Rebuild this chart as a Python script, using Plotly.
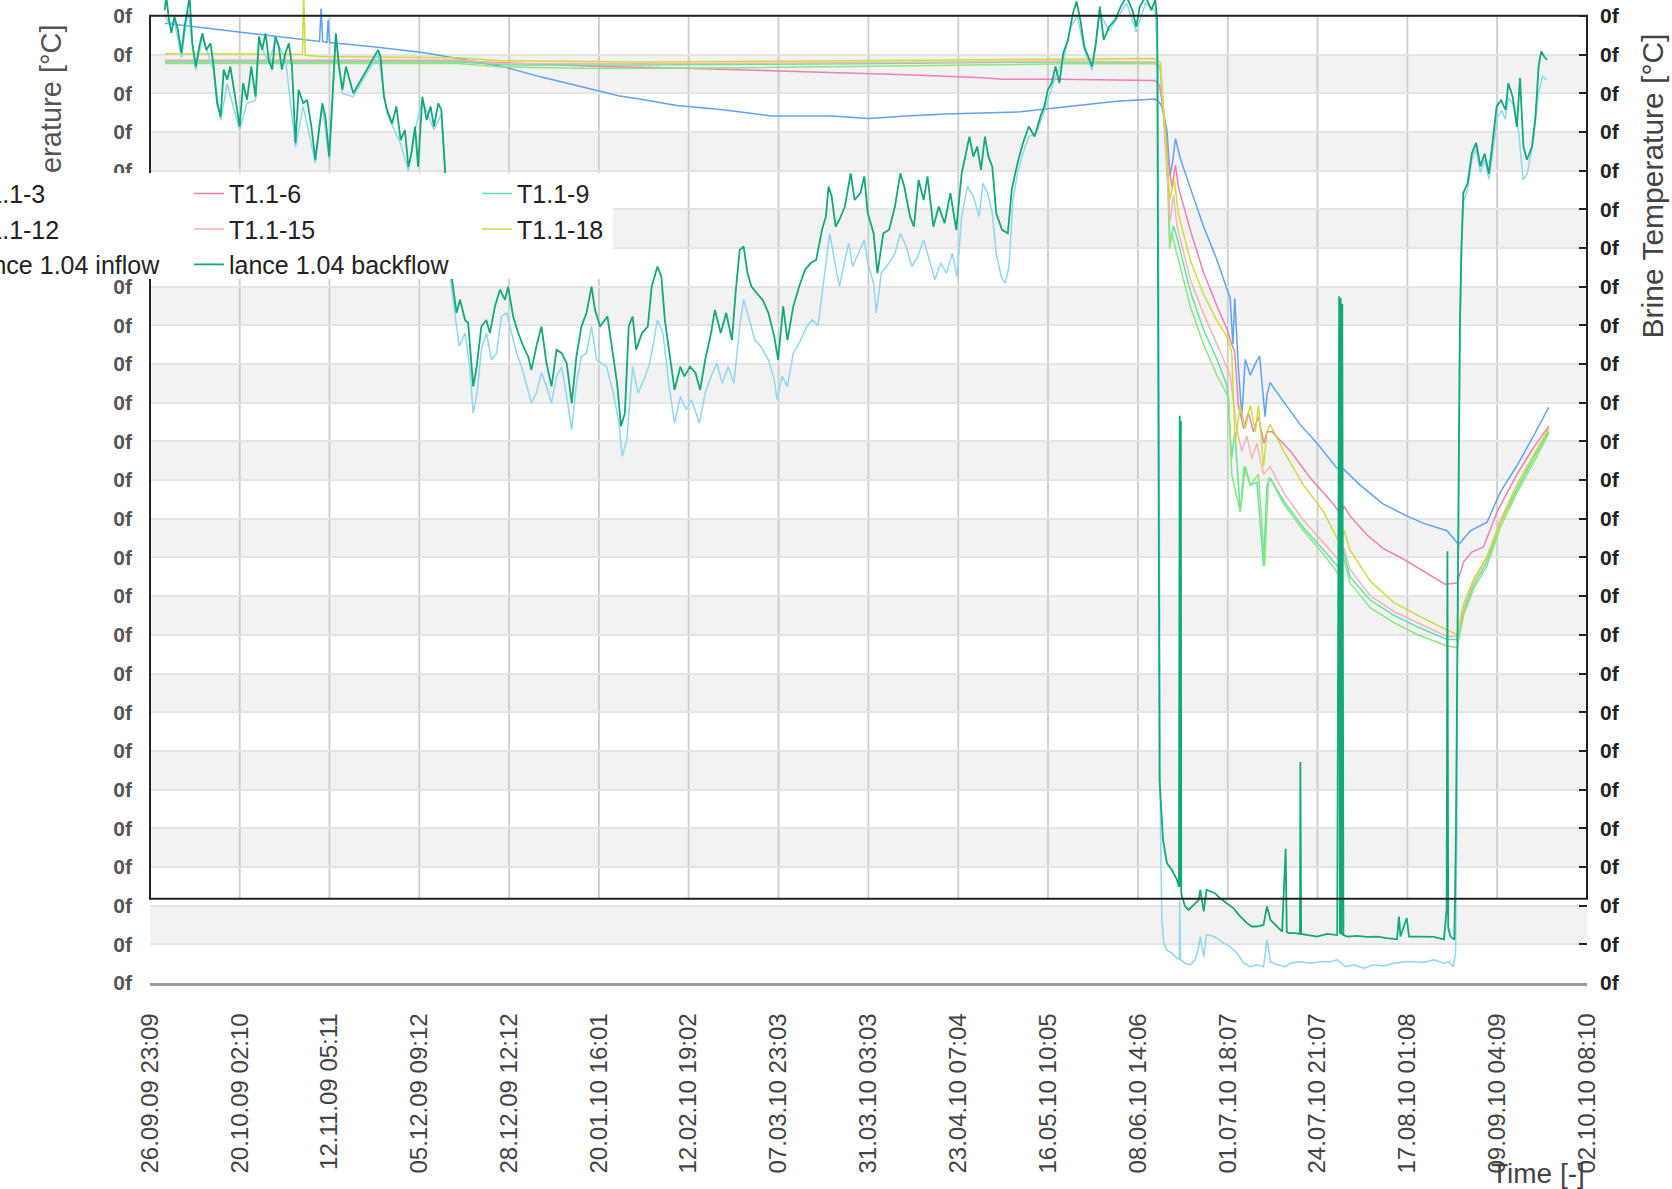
import pandas as pd
import plotly.graph_objects as go

# ---------------- data ----------------
T_START = "2009-09-26 23:09"
T_END = "2010-10-02 08:10"

x_tick_labels = ["26.09.09 23:09", "20.10.09 02:10", "12.11.09 05:11", "05.12.09 09:12",
                 "28.12.09 12:12", "20.01.10 16:01", "12.02.10 19:02", "07.03.10 23:03",
                 "31.03.10 03:03", "23.04.10 07:04", "16.05.10 10:05", "08.06.10 14:06",
                 "01.07.10 18:07", "24.07.10 21:07", "17.08.10 01:08", "09.09.10 04:09",
                 "02.10.10 08:10"]
y_tick_values = list(range(0, 26))
y_tick_labels = ["0f"] * 26

# (days since start, temperature)
T1_1_3 = [(3.85, 24.81), (16.2, 24.67), (30.0, 24.50), (42.6, 24.37), (43.7, 24.34), (44.1, 25.19),
          (44.5, 24.34), (45.6, 24.31), (45.9, 24.89), (46.3, 24.31), (57.5, 24.20), (71.2, 24.04),
          (79.5, 23.90), (90.5, 23.70), (100.4, 23.43), (109.7, 23.21), (121.0, 22.93), (126.2, 22.85),
          (135.8, 22.68), (147.7, 22.57), (160.3, 22.41), (175.7, 22.41), (185.3, 22.35), (195.0, 22.41),
          (204.9, 22.46), (224.4, 22.52), (239.2, 22.68), (249.1, 22.79), (259.0, 22.85), (260.1, 22.77),
          (260.8, 22.66), (262.1, 22.05), (262.9, 20.87), (263.6, 21.25), (264.3, 21.83), (265.5, 21.33),
          (268.1, 20.56), (271.5, 19.57), (275.0, 18.69), (277.6, 17.89), (278.4, 17.70), (279.1, 16.51),
          (279.6, 17.70), (280.5, 15.93), (281.4, 14.64), (282.3, 16.12), (283.6, 15.71), (284.9, 16.01),
          (286.0, 16.21), (286.6, 15.52), (287.4, 14.64), (287.9, 15.21), (288.7, 15.52), (292.2, 15.02),
          (296.4, 14.44), (300.8, 13.95), (305.9, 13.31), (307.6, 13.29), (308.5, 13.20), (311.9, 12.87),
          (317.9, 12.38), (324.0, 12.07), (328.3, 11.88), (334.3, 11.69), (337.3, 11.33), (340.3, 11.69),
          (344.6, 11.91), (348.0, 12.68), (352.3, 13.37), (356.6, 14.14), (360.5, 14.88)]

T1_1_6 = [(3.85, 23.84), (43.7, 23.84), (79.5, 23.84), (90.5, 23.79), (116.0, 23.69), (135.7, 23.65),
          (160.3, 23.58), (175.2, 23.54), (195.0, 23.48), (214.6, 23.40), (219.7, 23.36), (234.3, 23.36),
          (259.0, 23.33), (260.2, 23.21), (261.6, 22.24), (262.5, 21.25), (263.4, 20.56), (264.3, 21.14),
          (265.1, 20.56), (268.1, 19.47), (271.5, 18.38), (275.0, 17.50), (277.6, 16.90), (278.8, 16.51),
          (279.6, 16.32), (280.5, 14.94), (281.9, 14.33), (283.1, 14.75), (284.4, 14.25), (285.7, 14.64),
          (287.1, 13.95), (287.9, 14.25), (289.2, 14.25), (293.9, 13.75), (299.0, 13.06), (305.0, 12.38),
          (306.8, 12.13), (307.8, 12.32), (309.3, 12.07), (313.7, 11.58), (317.9, 11.23), (322.3, 11.00),
          (326.6, 10.75), (330.9, 10.50), (333.8, 10.31), (336.9, 10.34), (338.6, 10.89), (340.7, 11.14),
          (343.7, 11.27), (347.2, 12.18), (352.3, 13.15), (356.6, 13.84), (360.5, 14.39)]

T1_1_9 = [(3.85, 23.81), (79.5, 23.81), (93.2, 23.73), (126.2, 23.73), (181.2, 23.76), (236.2, 23.81),
          (259.0, 23.80), (260.4, 23.70), (261.6, 21.83), (262.5, 20.37), (262.9, 19.07), (263.8, 19.57),
          (264.7, 19.27), (268.1, 17.89), (271.5, 16.90), (275.0, 16.12), (277.6, 15.44), (278.8, 13.56),
          (279.6, 14.25), (281.0, 12.18), (282.3, 13.35), (283.6, 12.87), (285.3, 12.95), (287.0, 10.78),
          (287.9, 12.87), (288.7, 13.06), (292.2, 12.46), (297.3, 11.77), (302.5, 11.19), (306.8, 10.69),
          (307.6, 11.19), (309.3, 10.50), (314.5, 9.90), (320.5, 9.51), (326.6, 9.21), (334.3, 8.88),
          (336.9, 8.88), (338.6, 9.61), (341.2, 10.29), (344.6, 10.89), (348.0, 11.88), (352.3, 12.76),
          (356.6, 13.56), (360.5, 14.25)]

T1_1_12 = [(3.85, 23.77), (79.5, 23.77), (90.5, 23.68), (115.2, 23.64), (153.7, 23.66), (208.7, 23.73),
           (236.2, 23.76), (259.0, 23.76), (260.4, 23.65), (262.1, 21.35), (262.8, 18.99), (263.4, 19.38),
           (264.3, 18.99), (268.1, 17.50), (271.5, 16.51), (275.0, 15.71), (278.0, 15.13), (278.8, 13.15),
           (281.0, 12.18), (281.9, 13.35), (283.6, 12.87), (285.7, 13.15), (287.3, 10.78), (288.3, 13.06),
           (289.2, 12.95), (292.2, 12.38), (297.3, 11.69), (302.5, 11.08), (306.6, 10.54), (307.6, 11.00),
           (309.3, 10.34), (314.5, 9.70), (320.5, 9.32), (326.6, 9.01), (334.3, 8.71), (336.9, 8.67),
           (338.6, 9.51), (341.2, 10.20), (344.6, 10.78), (348.0, 11.77), (352.3, 12.67), (356.6, 13.45),
           (360.5, 14.20)]

T1_1_15 = [(3.85, 23.86), (79.5, 23.86), (90.5, 23.77), (126.2, 23.76), (181.2, 23.79), (236.2, 23.83),
           (259.0, 23.81), (260.4, 23.70), (261.5, 22.11), (262.5, 20.37), (262.9, 19.68), (263.8, 20.37),
           (264.7, 19.57), (268.1, 18.19), (271.5, 17.31), (275.0, 16.51), (278.4, 15.71), (280.1, 14.33),
           (281.4, 13.75), (282.7, 14.14), (284.0, 13.56), (285.3, 13.95), (287.0, 13.15), (288.7, 13.35),
           (292.2, 12.67), (297.3, 11.96), (302.5, 11.38), (306.8, 10.89), (307.6, 11.27), (309.3, 10.69),
           (314.5, 10.01), (320.5, 9.61), (326.6, 9.32), (334.3, 8.96), (336.9, 8.96), (338.6, 9.70),
           (341.2, 10.39), (344.6, 11.00), (348.0, 11.96), (352.3, 12.87), (356.6, 13.64), (360.5, 14.33)]

T1_1_18 = [(3.85, 24.02), (38.2, 24.01), (39.3, 24.01), (39.6, 25.69), (40.0, 23.98), (43.7, 23.95),
           (79.5, 23.92), (90.5, 23.84), (126.2, 23.81), (181.2, 23.84), (236.2, 23.88), (259.0, 23.90),
           (260.4, 23.79), (261.2, 22.53), (262.1, 21.35), (262.9, 20.26), (264.0, 20.76), (265.1, 19.87),
           (268.1, 18.69), (271.5, 17.81), (275.0, 17.12), (277.6, 16.70), (278.8, 16.32), (279.7, 13.95),
           (281.0, 14.94), (282.3, 14.33), (283.6, 14.94), (284.9, 14.25), (285.7, 14.94), (287.0, 13.35),
           (287.9, 14.25), (288.7, 14.44), (292.2, 13.75), (297.3, 12.87), (302.5, 12.18), (306.8, 11.33),
           (307.8, 11.69), (309.3, 11.19), (314.5, 10.39), (320.5, 9.84), (326.6, 9.51), (334.3, 9.12),
           (336.9, 9.01), (338.6, 9.81), (341.2, 10.45), (344.6, 11.03), (348.0, 11.88), (352.3, 12.87),
           (356.6, 13.64), (360.5, 14.33)]

LANCE_INFLOW = [
    (3.8, 25.03), (4.9, 24.81), (6.3, 24.86), (8.1, 23.92), (9.8, 25.14), (11.8, 23.59), (13.5, 24.45),
    (16.4, 23.59), (18.2, 22.30), (19.9, 23.24), (23.1, 22.05), (25.0, 22.74), (27.2, 22.82), (28.1, 24.37),
    (30.6, 23.76), (32.3, 24.37), (34.9, 23.92), (37.5, 21.61), (39.5, 22.66), (42.6, 21.20), (44.4, 22.66),
    (46.2, 21.28), (47.9, 24.45), (49.6, 22.99), (52.4, 22.91), (58.8, 24.01), (61.1, 22.46), (64.6, 21.69),
    (66.6, 21.00), (68.3, 22.05), (70.2, 22.82), (73.2, 22.05), (75.1, 22.46), (76.0, 21.00), (77.0, 18.52),
    (78.5, 17.40), (79.7, 16.46), (81.2, 16.80), (82.4, 15.93), (83.3, 14.73), (84.3, 15.25), (85.4, 16.37),
    (86.7, 16.80), (88.0, 16.11), (89.3, 16.28), (90.6, 17.23), (91.9, 17.32), (93.2, 16.80), (94.5, 16.28),
    (95.8, 15.93), (97.0, 15.50), (98.3, 14.99), (99.6, 15.25), (100.9, 15.77), (102.2, 15.42), (103.5, 14.99),
    (104.8, 15.68), (106.1, 15.93), (107.4, 15.16), (108.7, 14.30), (109.9, 15.50), (111.2, 16.19),
    (112.5, 16.28), (113.8, 16.97), (115.1, 16.11), (116.4, 16.02), (117.7, 15.93), (119.4, 15.25),
    (120.9, 14.47), (121.7, 13.61), (122.9, 14.04), (124.4, 15.93), (125.8, 15.25), (127.3, 15.59),
    (128.8, 16.02), (130.8, 17.14), (132.2, 16.80), (133.7, 15.50), (135.2, 14.47), (136.7, 15.16),
    (138.2, 14.82), (139.6, 15.08), (141.6, 14.47), (143.1, 15.25), (144.6, 15.68), (146.1, 16.02),
    (147.5, 15.50), (149.0, 15.93), (150.5, 15.50), (152.0, 16.97), (153.0, 17.66), (154.5, 17.14),
    (155.9, 16.62), (157.4, 16.46), (159.4, 16.11), (160.9, 15.59), (161.6, 15.08), (162.9, 15.68),
    (164.3, 15.42), (165.8, 16.28), (167.3, 16.54), (169.3, 16.97), (170.7, 17.14), (172.2, 17.00),
    (173.7, 18.26), (175.2, 19.38), (176.7, 18.52), (177.7, 18.00), (179.1, 18.69), (180.1, 19.12),
    (181.1, 18.52), (182.6, 18.86), (184.1, 19.21), (185.0, 18.61), (186.5, 18.09), (187.2, 17.32),
    (188.5, 18.35), (190.5, 18.61), (192.0, 18.86), (193.4, 19.38), (194.9, 19.04), (196.4, 18.52),
    (197.9, 18.78), (199.4, 19.21), (200.9, 18.69), (202.3, 18.18), (203.8, 18.61), (205.3, 18.35),
    (206.8, 18.86), (208.0, 18.26), (209.2, 19.81), (210.7, 20.59), (212.2, 20.33), (213.7, 19.81),
    (214.7, 20.67), (215.9, 20.42), (217.1, 19.90), (218.1, 18.86), (219.4, 18.26), (220.4, 18.09),
    (221.4, 18.52), (222.4, 20.24), (223.6, 20.93), (225.0, 21.45), (226.5, 21.88), (228.5, 21.97),
    (230.0, 22.40), (231.4, 22.83), (233.4, 23.43), (235.4, 23.86), (237.4, 24.72), (239.0, 25.00),
    (240.8, 24.12), (242.8, 23.59), (244.8, 25.08), (247.2, 24.61), (250.2, 25.08), (251.7, 25.33),
    (254.2, 24.59), (256.6, 25.33), (259.1, 25.14), (259.8, 23.76), (260.4, 4.39), (260.8, 1.63),
    (261.3, 1.03), (262.1, 0.85), (263.4, 0.77), (264.7, 0.64), (265.3, 0.61), (265.4, 2.12), (265.6, 0.61),
    (266.8, 0.51), (268.1, 0.47), (269.4, 0.60), (270.3, 0.94), (270.7, 1.20), (271.6, 0.68), (272.3, 1.24),
    (273.7, 1.22), (275.0, 1.16), (276.7, 1.03), (278.4, 0.94), (280.2, 0.77), (281.9, 0.51), (283.6, 0.42),
    (285.3, 0.47), (287.0, 0.42), (287.9, 1.12), (288.8, 0.55), (290.5, 0.47), (292.6, 0.42), (293.9, 0.51),
    (296.5, 0.55), (299.1, 0.51), (301.6, 0.55), (304.2, 0.55), (306.0, 0.60), (308.1, 0.42), (310.3, 0.47),
    (312.8, 0.38), (315.4, 0.47), (318.0, 0.44), (320.6, 0.51), (323.1, 0.55), (325.7, 0.55), (328.3, 0.53),
    (330.9, 0.60), (333.5, 0.51), (334.8, 0.55), (335.9, 0.42), (336.5, 0.77), (336.8, 3.91), (337.0, 8.32),
    (337.3, 13.29), (337.6, 16.59), (338.0, 18.66), (338.5, 20.18), (339.6, 20.51), (340.7, 21.28),
    (341.8, 21.55), (342.9, 20.95), (344.0, 21.28), (345.1, 20.78), (346.2, 21.55), (347.3, 22.38),
    (348.4, 22.55), (349.3, 22.33), (350.1, 22.88), (351.7, 22.66), (352.8, 21.97), (353.9, 20.76),
    (355.0, 20.92), (356.6, 21.80), (357.8, 22.99), (358.9, 23.43), (360.0, 23.35)]

LANCE_BACKFLOW = [
    (3.8, 25.15), (4.2, 25.50), (4.9, 24.89), (5.5, 24.56), (6.3, 24.98), (7.2, 24.64), (8.1, 24.04),
    (8.9, 24.72), (9.8, 25.24), (10.2, 25.50), (10.9, 24.29), (11.8, 23.69), (12.7, 24.21), (13.5, 24.55),
    (14.5, 24.12), (15.6, 24.29), (16.4, 23.69), (17.3, 22.74), (18.2, 22.40), (19.0, 23.61), (19.9, 23.35),
    (20.7, 23.69), (21.8, 23.00), (23.1, 22.14), (24.0, 23.26), (25.0, 22.83), (26.1, 23.69), (27.2, 22.91),
    (28.1, 24.47), (28.9, 24.12), (29.8, 24.55), (30.6, 23.86), (31.5, 23.61), (32.3, 24.47), (33.2, 24.21),
    (34.0, 23.61), (34.9, 24.04), (35.8, 24.29), (36.6, 23.69), (37.5, 21.71), (38.3, 23.09), (39.5, 22.74),
    (40.5, 22.83), (41.6, 22.14), (42.6, 21.28), (43.5, 21.97), (44.4, 22.74), (45.2, 22.40), (46.2, 21.36),
    (47.0, 22.83), (47.9, 24.55), (48.7, 23.69), (49.6, 23.09), (50.5, 23.69), (51.5, 23.35), (52.4, 23.00),
    (58.8, 24.12), (59.4, 23.95), (60.3, 22.91), (61.1, 22.57), (62.4, 22.22), (63.5, 22.66), (64.6, 21.79),
    (65.7, 22.05), (66.6, 21.10), (67.4, 21.45), (68.3, 22.14), (69.1, 21.10), (70.2, 22.91), (71.3, 22.31),
    (72.3, 22.66), (73.2, 22.14), (74.3, 22.74), (75.1, 22.57), (76.0, 21.10), (77.0, 18.80), (78.1, 18.00),
    (79.0, 17.32), (79.9, 17.66), (81.2, 17.14), (82.0, 17.06), (83.3, 15.42), (84.2, 15.93), (85.4, 16.97),
    (86.7, 17.14), (87.6, 16.80), (88.9, 17.49), (90.2, 17.92), (91.5, 17.66), (92.3, 18.00), (93.6, 17.23),
    (94.9, 16.80), (96.2, 16.46), (97.5, 16.19), (98.3, 15.85), (99.6, 16.46), (100.9, 16.97), (102.2, 16.02),
    (103.5, 15.42), (104.8, 16.37), (106.1, 16.28), (107.4, 16.02), (108.7, 14.99), (109.9, 16.19),
    (111.2, 16.97), (112.5, 17.32), (113.8, 18.00), (114.7, 17.40), (116.0, 16.97), (117.9, 17.23),
    (118.9, 16.54), (120.4, 15.50), (121.4, 14.39), (122.4, 14.73), (123.4, 16.97), (124.4, 17.23),
    (125.3, 16.37), (126.8, 16.80), (128.3, 16.97), (129.3, 18.00), (130.8, 18.52), (131.8, 18.26),
    (132.7, 17.14), (134.2, 16.11), (135.2, 15.33), (136.7, 15.93), (137.7, 15.68), (139.2, 15.93),
    (140.6, 15.77), (141.8, 15.33), (143.1, 16.11), (144.6, 16.80), (145.6, 17.40), (147.1, 16.80),
    (148.5, 17.32), (150.0, 16.62), (151.0, 17.92), (152.0, 18.95), (153.0, 19.04), (154.0, 18.35),
    (155.0, 18.00), (156.4, 17.83), (157.9, 17.66), (159.4, 17.32), (160.9, 16.71), (161.9, 16.11),
    (163.2, 17.49), (164.3, 16.62), (165.8, 17.49), (167.3, 18.00), (168.8, 18.43), (170.3, 18.61),
    (171.7, 18.69), (173.2, 19.47), (174.2, 19.81), (174.9, 20.59), (175.7, 20.33), (176.7, 19.55),
    (177.7, 19.73), (179.1, 20.07), (180.6, 20.93), (181.6, 20.24), (183.1, 20.42), (184.1, 20.85),
    (185.0, 19.90), (186.5, 19.38), (187.5, 18.35), (189.0, 19.38), (190.5, 19.47), (192.0, 20.07),
    (193.4, 20.93), (194.4, 20.59), (195.9, 19.81), (196.9, 19.55), (198.1, 20.76), (199.4, 20.24),
    (200.4, 20.85), (201.9, 19.55), (203.3, 20.07), (204.8, 19.64), (206.3, 20.42), (207.8, 19.47),
    (209.2, 20.93), (210.5, 21.54), (211.2, 21.88), (212.2, 21.36), (213.2, 21.62), (214.2, 21.02),
    (215.2, 21.88), (216.1, 21.36), (217.1, 21.10), (218.1, 19.90), (219.6, 19.47), (221.1, 19.38),
    (222.1, 20.50), (223.6, 21.19), (225.0, 21.71), (226.5, 22.14), (228.0, 21.88), (229.5, 22.40),
    (230.5, 22.66), (231.4, 23.09), (232.4, 23.26), (233.4, 23.69), (234.4, 23.26), (235.4, 24.04),
    (236.6, 24.38), (237.9, 25.07), (238.8, 25.37), (239.8, 24.89), (240.8, 24.21), (241.8, 23.95),
    (242.8, 23.69), (243.8, 24.29), (244.8, 25.24), (245.8, 24.38), (247.2, 24.72), (248.7, 24.89),
    (250.2, 25.24), (251.7, 25.50), (253.2, 25.15), (254.2, 24.72), (255.1, 25.24), (256.6, 25.50),
    (258.1, 25.15), (259.1, 25.41), (259.6, 24.89), (260.2, 5.25), (260.6, 4.39), (261.1, 3.70),
    (262.1, 3.10), (263.4, 2.92), (264.7, 2.67), (265.2, 2.49), (265.4, 14.66), (265.5, 2.48), (265.7, 14.53),
    (265.8, 2.32), (266.0, 2.23), (266.8, 1.98), (267.7, 1.89), (269.0, 2.02), (270.3, 2.15), (270.7, 2.41),
    (271.6, 1.85), (272.3, 2.41), (273.3, 2.36), (274.5, 2.32), (275.8, 2.19), (277.6, 2.06), (279.3, 1.93),
    (281.0, 1.72), (282.8, 1.54), (284.0, 1.46), (285.3, 1.46), (287.0, 1.50), (287.9, 1.98), (288.8, 1.63),
    (290.5, 1.46), (291.8, 1.33), (292.7, 3.47), (293.0, 1.32), (293.5, 1.29), (295.2, 1.29), (296.4, 1.27),
    (296.5, 5.71), (296.7, 1.27), (298.2, 1.24), (300.8, 1.20), (303.4, 1.27), (306.0, 1.24), (306.5, 17.75),
    (306.7, 1.27), (306.9, 17.70), (307.1, 1.24), (307.3, 17.56), (307.6, 1.24), (308.6, 1.20), (311.1, 1.22),
    (313.7, 1.19), (316.3, 1.20), (318.8, 1.16), (321.4, 1.13), (321.9, 1.72), (322.3, 1.20), (323.9, 1.68),
    (324.5, 1.20), (327.5, 1.20), (330.9, 1.19), (333.5, 1.13), (334.2, 1.90), (334.4, 11.16), (334.6, 1.43),
    (335.2, 1.20), (336.2, 1.12), (336.6, 3.91), (337.0, 8.88), (337.3, 13.84), (337.6, 16.92), (338.0, 18.99),
    (338.5, 20.42), (339.1, 20.56), (339.6, 20.67), (340.7, 21.44), (341.8, 21.72), (342.9, 21.11),
    (344.0, 21.44), (345.1, 20.92), (346.2, 21.80), (347.1, 22.66), (348.2, 22.82), (349.4, 22.57),
    (350.1, 23.26), (351.2, 22.91), (352.3, 22.13), (353.1, 23.39), (354.0, 21.62), (354.9, 21.28),
    (356.2, 21.62), (357.1, 22.40), (357.9, 23.69), (358.6, 24.08), (359.3, 23.95), (360.1, 23.86)]

# box (framed area) lower edge, in axis units
BOX_BOTTOM = 2.18
BOX_TOP = 25.0
Y_MAX = 25.41

# ---------------- helpers ----------------
t0 = pd.Timestamp(T_START)


def split(series):
    xs = [t0 + pd.Timedelta(days=d) for d, _ in series]
    ys = [v for _, v in series]
    return xs, ys


tick_times = list(pd.to_datetime(x_tick_labels, format="%d.%m.%y %H:%M"))

FONT = "Liberation Sans, Arial, sans-serif"

series_specs = [
    ("T1.1-3", T1_1_3, "#5ea2f2", "legend", "y", 1.5),
    ("T1.1-6", T1_1_6, "#f27eb0", "legend2", "y", 1.5),
    ("T1.1-9", T1_1_9, "#5ee3a6", "legend3", "y", 1.5),
    ("T1.1-12", T1_1_12, "#8fe57a", "legend", "y", 1.5),
    ("T1.1-15", T1_1_15, "#f6b3b3", "legend2", "y", 1.5),
    ("T1.1-18", T1_1_18, "#cbdc3c", "legend3", "y", 1.5),
    ("lance 1.04 inflow", LANCE_INFLOW, "#8fd6f2", "legend", "y2", 1.5),
    ("lance 1.04 backflow", LANCE_BACKFLOW, "#12a87a", "legend2", "y2", 1.8),
]

fig = go.Figure()
for name, data, color, leg, yax, lw in series_specs:
    xs, ys = split(data)
    fig.add_trace(go.Scatter(x=xs, y=ys, mode="lines", name=name,
                             line=dict(color=color, width=lw),
                             legend=leg, yaxis=yax, showlegend=True))

# ---------------- shapes ----------------
shapes = []
for k in range(1, 24, 2):
    shapes.append(dict(type="rect", xref="paper", x0=0, x1=1, yref="y", y0=k, y1=k + 1,
                       fillcolor="#f2f2f2", line=dict(width=0), layer="below"))
for tv in tick_times:
    shapes.append(dict(type="line", xref="x", x0=tv, x1=tv, yref="y", y0=BOX_BOTTOM, y1=BOX_TOP,
                       line=dict(color="#cccccc", width=1.8), layer="below"))
shapes.append(dict(type="rect", xref="paper", x0=0, x1=1, yref="y", y0=BOX_BOTTOM, y1=BOX_TOP,
                   line=dict(color="#222222", width=2), fillcolor="rgba(0,0,0,0)", layer="above"))
# left axis title (drawn as a shape label so the legend box can sit over it)
shapes.append(dict(type="rect", xref="paper", yref="paper", x0=-0.092, x1=-0.05, y0=0.781, y1=0.946,
                   line=dict(width=0), fillcolor="rgba(0,0,0,0)", layer="above",
                   label=dict(text="Temperature [°C]", textangle=-90, textposition="middle center",
                              font=dict(size=29, color="#555555", family=FONT))))
# legend background box
shapes.append(dict(type="rect", xref="paper", yref="paper", x0=-0.2, x1=0.3222, y0=0.7162, y1=0.824,
                   line=dict(width=0), fillcolor="white", layer="above"))

legend_common = dict(orientation="v", xanchor="left", yanchor="top", y=0.8264,
                     bgcolor="rgba(0,0,0,0)", borderwidth=0,
                     font=dict(size=25, color="#222222", family=FONT))

fig.update_layout(
    width=1672, height=1189,
    margin=dict(l=150, r=85, t=0, b=206, autoexpand=False),
    paper_bgcolor="white", plot_bgcolor="white",
    font=dict(family=FONT, color="#444444"),
    showlegend=True,
    legend=dict(x=-0.151, **legend_common),
    legend2=dict(x=0.0271, **legend_common),
    legend3=dict(x=0.2276, **legend_common),
    xaxis=dict(type="date", range=[t0, pd.Timestamp(T_END)], tickmode="array",
               tickvals=tick_times, ticktext=x_tick_labels, tickangle=-90,
               showgrid=False, zeroline=False, showline=True, linecolor="#9a9a9a", linewidth=2.5,
               ticks="", tickfont=dict(size=24, color="#444444", family=FONT),
               ticklabelstandoff=18),
    yaxis=dict(range=[0, Y_MAX], tickmode="array", tickvals=y_tick_values, ticktext=y_tick_labels,
               showgrid=True, gridcolor="#e4e4e4", gridwidth=2, zeroline=False, showline=False,
               ticks="", tickfont=dict(size=21, color="#555555", family=FONT, weight="bold"),
               ticklabelstandoff=17),
    yaxis2=dict(range=[0, Y_MAX], overlaying="y", side="right", tickmode="array",
                tickvals=y_tick_values, ticktext=y_tick_labels, showgrid=False, zeroline=False,
                showline=False, ticks="inside", ticklen=8, tickwidth=2, tickcolor="#222222",
                tickfont=dict(size=21, color="#222222", family=FONT, weight="bold"),
                ticklabelstandoff=12),
    shapes=shapes,
    annotations=[
        dict(text="Brine Temperature [°C]", xref="paper", yref="paper", x=1.0459, y=0.8113,
             textangle=-90, showarrow=False, xanchor="center", yanchor="middle",
             font=dict(size=30, color="#444444", family=FONT)),
        dict(text="Time [-]", xref="paper", yref="paper", x=0.9659, y=-0.1933,
             showarrow=False, xanchor="center", yanchor="middle",
             font=dict(size=28, color="#444444", family=FONT)),
    ],
)

fig.write_html("out.html", config={"displayModeBar": False},
               post_script="document.body.style.margin='0';document.body.style.overflow='hidden';")
